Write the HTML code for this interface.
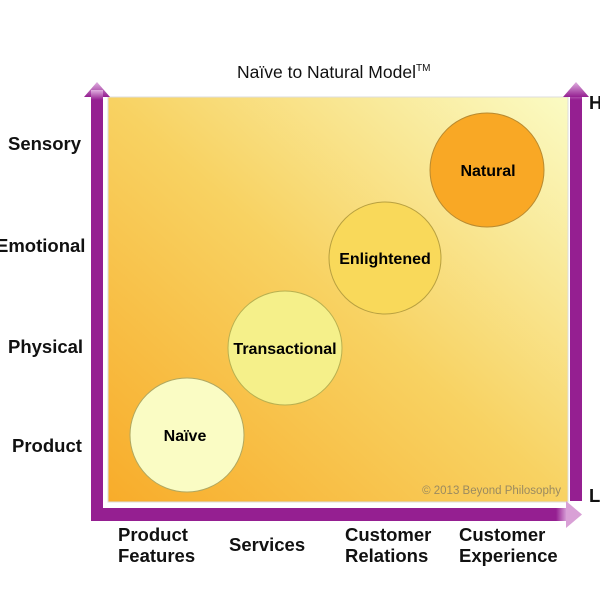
<!DOCTYPE html>
<html><head><style>
body{margin:0;width:600px;height:600px;background:#fff;position:relative;overflow:hidden;font-family:"Liberation Sans",Arial,sans-serif}
.t{position:absolute;font-weight:bold;font-size:18.5px;color:#111;line-height:21px}
</style></head><body>
<svg width="600" height="600" style="position:absolute;left:0;top:0">
<defs>
<linearGradient id="bg" x1="0" y1="1" x2="1" y2="0">
<stop offset="0" stop-color="#f8ac2a"/><stop offset="0.5" stop-color="#f8d262"/><stop offset="1" stop-color="#fafbc4"/>
</linearGradient>
<linearGradient id="av" x1="0" y1="0" x2="0" y2="1"><stop offset="0" stop-color="#e0b0e0"/><stop offset="1" stop-color="#951f91"/></linearGradient>
<linearGradient id="ah" x1="0" y1="0" x2="1" y2="0"><stop offset="0" stop-color="#951f91"/><stop offset="1" stop-color="#e0b0e0"/></linearGradient>
</defs>
<rect x="108" y="97" width="460" height="405" fill="url(#bg)" stroke="#ddd" stroke-width="1"/>
<rect x="91" y="96" width="12" height="425" fill="#951f91"/>
<polygon points="84,97 97,82 110,97" fill="url(#av)"/>
<rect x="91" y="90" width="12" height="10" fill="url(#av)"/>
<rect x="91" y="508" width="475" height="13" fill="#951f91"/>
<rect x="556" y="508" width="12" height="13" fill="url(#ah)"/>
<polygon points="566,501 582,514.5 566,528" fill="#d9a0d6"/>
<rect x="570" y="96" width="12" height="405" fill="#951f91"/>
<rect x="570" y="90" width="12" height="10" fill="url(#av)"/>
<polygon points="563,97 576,82 589,97" fill="url(#av)"/>
<circle cx="487" cy="170" r="57" fill="#f9a825" stroke="#b88a30" stroke-width="1"/>
<circle cx="385" cy="258" r="56" fill="#f9d95a" stroke="#b8a040" stroke-width="1"/>
<circle cx="285" cy="348" r="57" fill="#f5f08a" stroke="#b8b050" stroke-width="1"/>
<circle cx="187" cy="435" r="57" fill="#fafcc4" stroke="#b0a860" stroke-width="1"/>
<text x="488" y="176" text-anchor="middle" font-family="Liberation Sans" font-weight="bold" font-size="16">Natural</text>
<text x="385" y="264" text-anchor="middle" font-family="Liberation Sans" font-weight="bold" font-size="16">Enlightened</text>
<text x="285" y="354" text-anchor="middle" font-family="Liberation Sans" font-weight="bold" font-size="16">Transactional</text>
<text x="185" y="441" text-anchor="middle" font-family="Liberation Sans" font-weight="bold" font-size="16">Naïve</text>
<text x="561" y="494" text-anchor="end" font-family="Liberation Sans" font-size="11.5" fill="#9a8a60">© 2013 Beyond Philosophy</text>
<text x="237" y="78" font-family="Liberation Sans" font-size="17.5" fill="#111">Naïve to Natural Model<tspan font-size="10" dy="-7">TM</tspan></text>
</svg>
<div class="t" style="left:8px;top:133px">Sensory</div>
<div class="t" style="left:-4px;top:235px">Emotional</div>
<div class="t" style="left:8px;top:336px">Physical</div>
<div class="t" style="left:12px;top:435px">Product</div>
<div class="t" style="left:589px;top:92px">H</div>
<div class="t" style="left:589px;top:485px">L</div>
<div class="t" style="left:118px;top:524px">Product<br>Features</div>
<div class="t" style="left:229px;top:534px">Services</div>
<div class="t" style="left:345px;top:524px">Customer<br>Relations</div>
<div class="t" style="left:459px;top:524px">Customer<br>Experience</div>
</body></html>
